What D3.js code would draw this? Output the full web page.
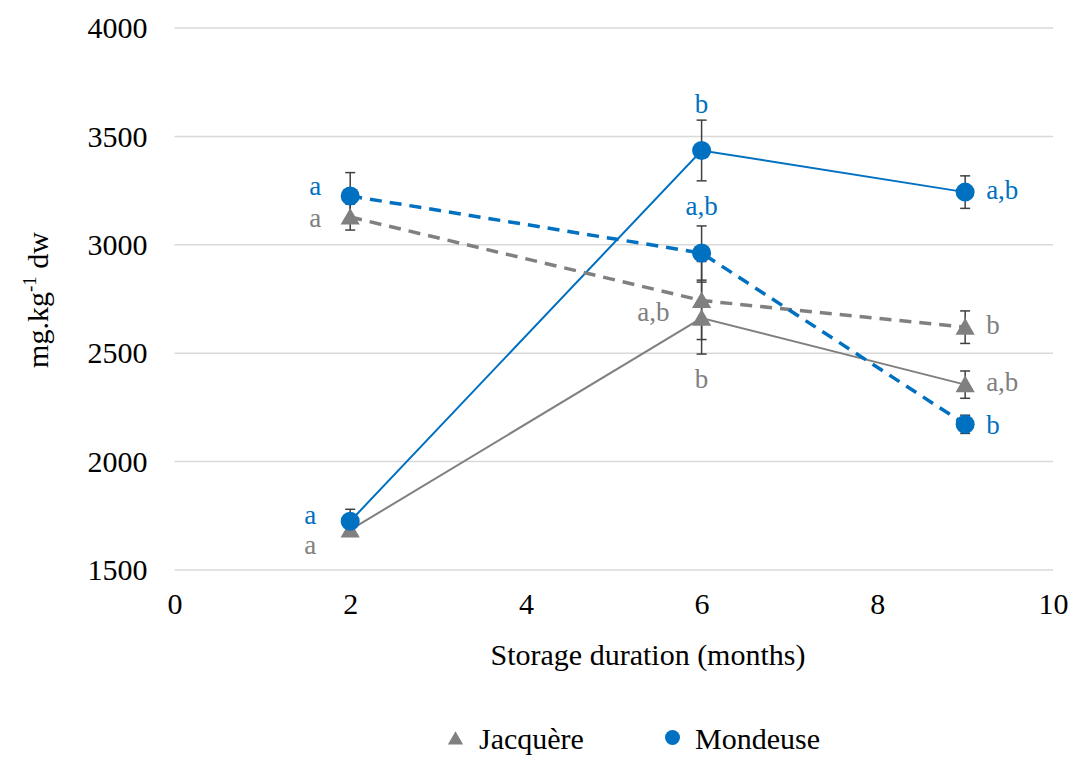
<!DOCTYPE html>
<html><head><meta charset="utf-8">
<script src="https://cdn.jsdelivr.net/npm/d3@7"></script>
<style>body{margin:0;background:#fff}svg{display:block}svg text{font-family:"Liberation Serif","Times New Roman",serif}</style>
</head><body><svg id="c" width="1074" height="758"></svg>
<script>
const months = [2, 6, 9];
const yTicks = [1500, 2000, 2500, 3000, 3500, 4000];
const xTicks = [0, 2, 4, 6, 8, 10];
const seriesNames = ["Jacquère", "Mondeuse"];
// solid series
const jacSolid = [1685, 2662, 2355];
const jacSolidErr = [20, 166, 63];
const monSolid = [1725, 3435, 3243];
const monSolidErr = [55, 140, 75];
// dashed series
const jacDashed = [3128, 2743, 2620];
const jacDashedErr = [60, 180, 75];
const monDashed = [3225, 2962, 2172];
const monDashedErr = [108, 125, 42];
// significance letters
const jacSolidLetters = ["a", "b", "a,b"];
const monSolidLetters = ["a", "b", "a,b"];
const jacDashedLetters = ["a", "a,b", "b"];
const monDashedLetters = ["a", "a,b", "b"];

// label layout (anchor, dx, dy relative to marker)
const jacSolidLab = [["end", -34, 24], ["middle", 0, 70], ["start", 21, 6]];
const monSolidLab = [["end", -34, 3], ["middle", 0, -37], ["start", 21, 7]];
const jacDashedLab = [["end", -29, 10], ["end", -32, 20], ["start", 21, 7]];
const monDashedLab = [["end", -29, -1], ["middle", 0, -38], ["start", 21, 10]];

const grey = "#808080", blue = "#0070C0", errCol = "#404040";
const svg = d3.select("#c");
const x = d3.scaleLinear().domain([0, 10]).range([174.5, 1053]);
const y = d3.scaleLinear().domain([1500, 4000]).range([570, 28]);

// gridlines
svg.append("g").selectAll("line").data(yTicks).join("line")
  .attr("x1", x(0)).attr("x2", x(10)).attr("y1", d => y(d)).attr("y2", d => y(d))
  .attr("stroke", "#d9d9d9").attr("stroke-width", 1.5);

// axes (text only)
const ya = svg.append("g").attr("transform", `translate(${x(0)},0)`)
  .call(d3.axisLeft(y).tickValues(yTicks).tickFormat(d3.format("d")).tickSize(0).tickPadding(27));
ya.attr("font-family", null);
ya.select(".domain").remove();
ya.selectAll("text").attr("font-size", 30).attr("fill", "#000").attr("dy", "0.32em");
const xa = svg.append("g").attr("transform", `translate(0,${y(1500)})`)
  .call(d3.axisBottom(x).tickValues(xTicks).tickSize(0).tickPadding(23));
xa.attr("font-family", null);
xa.select(".domain").remove();
xa.selectAll("text").attr("font-size", 30).attr("fill", "#000");

svg.append("text").attr("x", 648).attr("y", 665).attr("text-anchor", "middle")
  .attr("font-size", 30).text("Storage duration (months)");
const yt = svg.append("text").attr("transform", "translate(48,300) rotate(-90)")
  .attr("text-anchor", "middle").attr("font-size", 30);
yt.append("tspan").text("mg.kg");
yt.append("tspan").attr("font-size", 19).attr("dy", -12).text("-1");
yt.append("tspan").attr("dy", 12).text(" dw");

const series = [
  {vals: jacSolid, err: jacSolidErr, col: grey, w: 2, dash: null, shape: "tri", letters: jacSolidLetters, lab: jacSolidLab},
  {vals: monSolid, err: monSolidErr, col: blue, w: 2, dash: null, shape: "circ", letters: monSolidLetters, lab: monSolidLab},
  {vals: jacDashed, err: jacDashedErr, col: grey, w: 3.5, dash: "12,8", shape: "tri", letters: jacDashedLetters, lab: jacDashedLab},
  {vals: monDashed, err: monDashedErr, col: blue, w: 3.5, dash: "12,8", shape: "circ", letters: monDashedLetters, lab: monDashedLab}
];

const line = d3.line().x(d => x(d[0])).y(d => y(d[1]));
series.forEach(s => {
  const pts = months.map((m, i) => [m, s.vals[i]]);
  svg.append("path").attr("d", line(pts)).attr("fill", "none").attr("stroke", s.col)
    .attr("stroke-width", s.w).attr("stroke-dasharray", s.dash);
});
// error bars
series.forEach(s => {
  const g = svg.append("g").attr("stroke", errCol).attr("stroke-width", 1.5);
  months.forEach((m, i) => {
    const cx = x(m), t = y(s.vals[i] + s.err[i]), b = y(s.vals[i] - s.err[i]);
    g.append("line").attr("x1", cx).attr("x2", cx).attr("y1", t).attr("y2", b);
    g.append("line").attr("x1", cx - 5).attr("x2", cx + 5).attr("y1", t).attr("y2", t);
    g.append("line").attr("x1", cx - 5).attr("x2", cx + 5).attr("y1", b).attr("y2", b);
  });
});
// markers
const tri = d3.symbol().type(d3.symbolTriangle).size(160);
series.forEach(s => {
  months.forEach((m, i) => {
    if (s.shape === "tri") {
      svg.append("path").attr("d", tri()).attr("fill", s.col)
        .attr("transform", `translate(${x(m)},${y(s.vals[i]) + 2})`);
    } else {
      svg.append("circle").attr("cx", x(m)).attr("cy", y(s.vals[i])).attr("r", 9.5).attr("fill", s.col);
    }
  });
});
// letters
series.forEach(s => {
  months.forEach((m, i) => {
    const [anchor, dx, dy] = s.lab[i];
    svg.append("text").attr("x", x(m) + dx).attr("y", y(s.vals[i]) + dy).attr("text-anchor", anchor)
      .attr("font-size", 27).attr("fill", s.col).text(s.letters[i]);
  });
});

// legend
const lg = svg.append("g");
lg.append("path").attr("d", d3.symbol().type(d3.symbolTriangle).size(100)()).attr("fill", grey)
  .attr("transform", "translate(455.5,740)");
lg.append("text").attr("x", 479).attr("y", 749).attr("font-size", 30).text(seriesNames[0]);
lg.append("circle").attr("cx", 672.5).attr("cy", 737.5).attr("r", 7.5).attr("fill", blue);
lg.append("text").attr("x", 695).attr("y", 749).attr("font-size", 30).text(seriesNames[1]);
</script></body></html>
